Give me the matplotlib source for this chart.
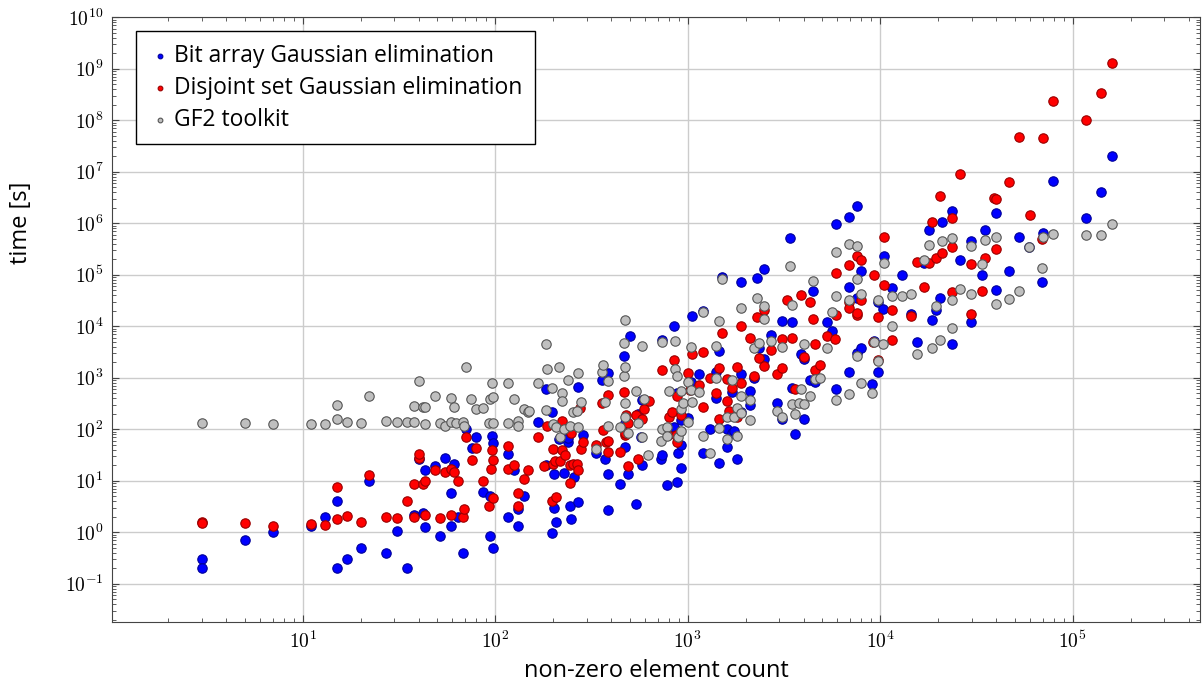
import numpy as np
import matplotlib
matplotlib.use("Agg")
import matplotlib.pyplot as plt
from matplotlib.ticker import FixedLocator, LogLocator, FuncFormatter, NullFormatter

plt.rcParams['font.family'] = ['Open Sans', 'DejaVu Sans']
plt.rcParams['mathtext.fontset'] = 'cm'

# Bit array Gaussian elimination: (non-zero count, time)
bit_x = [3, 3, 5, 7, 11, 13, 15, 15, 17, 20, 22, 27, 31, 35, 38, 40, 42, 43, 43, 49,
         52, 55, 59, 59, 61, 64, 68, 71, 76, 80, 87, 94, 94, 96, 98, 98, 116, 116, 126, 132,
         132, 141, 168, 183, 183, 198, 198, 203, 203, 208, 214, 227, 240, 240, 245, 247, 257, 270, 270, 285,
         333, 357, 370, 387, 387, 387, 445, 467, 470, 475, 490, 500, 540, 550, 575, 580, 580, 730, 735, 740,
         780, 850, 850, 885, 885, 890, 925, 925, 925, 1000, 1040, 1060, 1150, 1200, 1200, 1300, 1400, 1400, 1450, 1450,
         1500, 1600, 1600, 1700, 1700, 1750, 1800, 1900, 1900, 1900, 2100, 2100, 2200, 2300, 2350, 2500, 2500, 2700, 2900, 3100,
         3100, 3400, 3500, 3500, 3600, 3900, 4000, 4000, 4300, 4500, 4600, 5300, 5600, 5900, 5900, 6900, 6900, 6900, 7600, 7600,
         7600, 8000, 8000, 9100, 9300, 9800, 9800, 10500, 10300, 11500, 13000, 14500, 15500, 17000, 18000, 18500, 19500, 20500, 21000, 23500,
         23500, 26000, 29500, 29500, 34000, 35000, 40000, 40000, 46500, 52500, 59000, 69000, 70000, 79000, 118000, 140000, 160000]
bit_t = [0.3, 0.2, 0.7, 1.0, 1.3, 2.0, 4.0, 0.2, 0.3, 0.5, 10, 0.4, 1.05, 0.2, 2.2, 27, 2.4, 16, 1.25, 19,
         0.84, 28, 5.7, 1.3, 21, 2.0, 0.4, 100, 43, 70, 6, 5, 0.84, 73, 53, 0.5, 33, 2.0, 16, 1.3,
         2.8, 5, 140, 610, 20, 220, 0.96, 13.5, 2.9, 1.6, 66, 14, 57, 68, 3.2, 1.8, 12, 670, 3.8, 78,
         35, 900, 27, 1250, 13.5, 2.7, 8.8, 2600, 45, 135, 13.5, 6500, 3.5, 200, 72, 375, 20, 27, 31, 5400,
         8.2, 1.0e4, 112, 510, 9.6, 35, 150, 18, 50, 168, 830, 1.6e4, 1200, 2.0e4, 35, 100, 1300, 410, 3300, 22,
         9.0e4, 100, 46, 535, 85, 94, 26, 7.2e4, 1200, 220, 560, 290, 1000, 8.7e4, 3800, 1.3e5, 2300, 6800, 320, 1.27e4,
         160, 5.2e5, 1.2e4, 640, 82, 2900, 2300, 160, 910, 4.8e4, 840, 1.2e4, 8200, 9.6e5, 610, 1.3e6, 5.7e4, 1300, 2.2e6, 3.6e4,
         3000, 1.2e5, 3800, 770, 5200, 3.0e4, 1300, 2.3e5, 2.2e4, 5.5e4, 9.9e4, 1.7e4, 5000, 1.7e5, 7.4e5, 1.35e4, 2.1e4, 3.6e4, 1.05e6, 1.7e6,
         4500, 1.9e5, 4.5e5, 1.2e4, 9.9e4, 7.4e5, 1.6e6, 5.0e4, 1.17e5, 5.4e5, 3.5e5, 7.2e4, 6.6e5, 6.6e6, 1.26e6, 4.0e6, 2.0e7]

# Disjoint set Gaussian elimination
dsu_x = [3, 3, 5, 7, 11, 13, 15, 15, 17, 20, 22, 27, 31, 35, 38, 38, 40, 40, 42, 43,
         43, 49, 52, 55, 59, 59, 61, 64, 68, 69, 71, 76, 80, 87, 93, 95, 96, 98, 98, 116,
         116, 126, 132, 132, 141, 148, 168, 180, 185, 198, 200, 200, 205, 208, 218, 222, 222, 230, 245, 245,
         247, 253, 265, 270, 275, 280, 285, 333, 357, 362, 375, 385, 385, 387, 445, 467, 470, 475, 480, 490,
         490, 540, 550, 580, 595, 630, 740, 790, 805, 830, 850, 875, 885, 885, 925, 1000, 1030, 1060, 1150, 1200,
         1200, 1300, 1400, 1450, 1450, 1500, 1600, 1600, 1650, 1700, 1800, 1800, 1900, 1900, 2100, 2200, 2300, 2350, 2500, 2500,
         2700, 2900, 3100, 3100, 3300, 3500, 3600, 3900, 4000, 4300, 4500, 4600, 4600, 4900, 5300, 5800, 5900, 5900, 6900, 6900,
         6900, 7600, 7600, 7600, 8000, 8000, 9200, 9300, 9800, 9800, 10500, 10500, 11500, 11500, 14500, 15500, 17000, 18000, 18500, 19500,
         20500, 21000, 23500, 23500, 23500, 26000, 29500, 29500, 34000, 35000, 39000, 40000, 40000, 46500, 52500, 60000, 69000, 70000, 79000, 118000,
         140000, 160000]
dsu_t = [1.6, 1.5, 1.55, 1.35, 1.45, 1.4, 7.5, 1.8, 2.1, 1.6, 13, 2.0, 1.9, 4.0, 8.5, 2.0, 28, 33, 8.5, 10,
         2.2, 16, 1.9, 14.5, 17, 2.2, 15, 10, 2.0, 2.8, 70, 25, 43, 10, 3.3, 17, 39, 25, 4.6, 47,
         17, 20, 5.7, 3.2, 11, 16, 72, 19, 117, 4.0, 42, 21, 24, 4.8, 24, 40, 145, 31, 20, 9.2,
         85, 21, 21, 16, 260, 42, 57, 49, 320, 95, 57, 60, 37, 470, 37, 535, 79, 85, 190, 135,
         19, 190, 27, 155, 250, 360, 1400, 79, 175, 220, 2200, 78, 450, 57, 190, 1250, 590, 2900, 730, 3200,
         270, 1000, 510, 1560, 160, 7400, 960, 360, 230, 640, 1600, 170, 1.0e4, 800, 5900, 1100, 1.5e4, 2400, 2.1e4, 1700,
         3500, 1200, 5600, 1560, 3.3e4, 5900, 610, 4.0e4, 2550, 3.0e4, 1.4e4, 4600, 1430, 1800, 6400, 5700, 1.1e5, 1.65e4, 1.55e5, 3.0e4,
         2.3e4, 2.3e5, 1.65e4, 1.8e4, 1.9e5, 3.3e4, 5000, 9.9e4, 1.5e4, 2200, 5.4e5, 6.3e4, 2.1e4, 5400, 1.6e4, 1.8e5, 5.7e4, 1.7e5, 1.05e6, 2.1e5,
         3.4e6, 2.6e5, 1.26e6, 3.5e5, 4.7e4, 9.0e6, 1.6e5, 1.7e4, 4.9e4, 2.1e5, 3.1e6, 2.9e6, 3.2e5, 6.3e6, 4.7e7, 1.45e6, 4.9e5, 4.5e7, 2.35e8, 1.0e8,
         3.4e8, 1.28e9]

# GF2 toolkit
gf2_x = [3, 5, 7, 11, 13, 15, 15, 17, 20, 22, 27, 31, 35, 38, 38, 40, 42, 43, 43, 49,
         52, 55, 59, 59, 61, 63, 68, 69, 71, 75, 80, 87, 93, 94, 96, 98, 98, 116, 116, 126,
         132, 132, 141, 148, 150, 168, 183, 183, 187, 198, 200, 208, 214, 218, 222, 222, 227, 240, 245, 253,
         265, 270, 270, 280, 333, 357, 365, 373, 387, 387, 445, 465, 467, 475, 475, 475, 475, 490, 540, 550,
         580, 580, 595, 625, 735, 730, 740, 780, 780, 805, 855, 860, 885, 890, 925, 925, 925, 950, 1000, 1000,
         1040, 1040, 1050, 1150, 1200, 1200, 1300, 1400, 1400, 1450, 1450, 1500, 1600, 1600, 1700, 1750, 1800, 1800, 1900, 1900,
         1900, 2100, 2100, 2200, 2300, 2350, 2500, 2500, 2700, 2900, 3100, 3100, 3400, 3500, 3500, 3600, 3800, 3900, 4000, 4000,
         4300, 4500, 4600, 4900, 5300, 5600, 5900, 5900, 5900, 6900, 6900, 6900, 7600, 7600, 7600, 8000, 8000, 9100, 9300, 9800,
         9800, 10300, 10500, 11500, 11500, 13000, 14500, 15500, 17000, 18000, 18500, 19500, 20500, 21000, 23500, 23500, 23500, 26000, 29500, 29500,
         34000, 35000, 40000, 40000, 46500, 52500, 59000, 69000, 70000, 79000, 118000, 140000, 160000]
gf2_t = [130, 130, 125, 125, 125, 156, 300, 137, 130, 440, 143, 137, 137, 137, 280, 850, 270, 270, 125, 440,
         130, 115, 137, 400, 270, 130, 137, 115, 1600, 380, 245, 255, 130, 380, 780, 420, 130, 800, 130, 380,
         143, 115, 245, 220, 230, 800, 4600, 240, 1500, 640, 125, 110, 1600, 71, 510, 360, 100, 900, 115, 220,
         230, 1250, 110, 340, 42, 1300, 1800, 340, 880, 117, 110, 1100, 4800, 1.3e4, 1600, 320, 175, 85, 560, 135,
         4200, 70, 390, 31, 100, 60, 5000, 110, 75, 560, 1500, 5200, 1100, 70, 560, 250, 94, 330, 840, 140,
         4000, 590, 340, 535, 1.9e4, 75, 34, 4200, 1000, 1.27e4, 107, 8.3e4, 170, 65, 910, 175, 260, 75, 2.3e4, 450,
         210, 370, 150, 3800, 3.5e4, 4700, 2.5e4, 1.4e4, 5200, 230, 4000, 170, 1.5e5, 2.6e4, 310, 200, 330, 610, 4600, 310,
         450, 7.4e4, 960, 1000, 3800, 1.9e4, 2.8e5, 3.9e4, 370, 4.0e5, 3.3e4, 490, 3.6e5, 8.4e4, 2600, 4.2e4, 800, 510, 5000, 3.3e4,
         2100, 4500, 1.7e5, 3.9e4, 1.0e4, 3.9e4, 4.2e4, 2900, 1.9e5, 3.7e5, 3800, 2.5e4, 5300, 4.5e5, 5.2e5, 3.2e4, 9300, 5.3e4, 3.6e5, 4.2e4,
         1.6e5, 4.7e5, 5.4e5, 2.7e4, 3.4e4, 4.8e4, 3.5e5, 1.35e5, 5.4e5, 6.3e5, 5.9e5, 6.0e5, 9.6e5]

x_decades = [1, 2, 3, 4, 5]
y_decades = [-1, 0, 1, 2, 3, 4, 5, 6, 7, 8, 9, 10]

fig = plt.figure(figsize=(12.02, 6.86), dpi=100)
ax = fig.add_axes([0.093, 0.093, 0.9055, 0.882])

ax.scatter(bit_x, bit_t, s=46, c='#0000ff', edgecolors='#000099', linewidths=0.8,
           label='Bit array Gaussian elimination', zorder=3)
ax.scatter(dsu_x, dsu_t, s=46, c='#ff0000', edgecolors='#990000', linewidths=0.8,
           label='Disjoint set Gaussian elimination', zorder=3)
ax.scatter(gf2_x, gf2_t, s=46, c='#bfbfbf', edgecolors='#555555', linewidths=0.8,
           label='GF2 toolkit', zorder=3)

ax.set_xscale('log')
ax.set_yscale('log')
ax.set_xlim(1.02, 4.6e5)
ax.set_ylim(1.8e-2, 1e10)

fmt = FuncFormatter(lambda v, p: r'$10^{%d}$' % int(round(np.log10(v))))
ax.xaxis.set_major_locator(FixedLocator([10.0 ** d for d in x_decades]))
ax.yaxis.set_major_locator(FixedLocator([10.0 ** d for d in y_decades]))
ax.xaxis.set_minor_locator(LogLocator(base=10, subs=np.arange(2, 10), numticks=20))
ax.yaxis.set_minor_locator(LogLocator(base=10, subs=np.arange(2, 10), numticks=20))
ax.xaxis.set_major_formatter(fmt)
ax.yaxis.set_major_formatter(fmt)
ax.xaxis.set_minor_formatter(NullFormatter())
ax.yaxis.set_minor_formatter(NullFormatter())

ax.tick_params(which='both', direction='in', top=True, right=True, labelsize=14, color='#444444')
ax.tick_params(which='major', length=5, pad=6)
ax.tick_params(which='minor', length=3)
ax.grid(True, which='major', color='#cccccc', linewidth=1.0, zorder=0)
ax.set_axisbelow(True)
for sp in ax.spines.values():
    sp.set_color('#444444')

ax.set_xlabel('non-zero element count', fontsize=17, labelpad=5)
ax.set_ylabel('time [s]', fontsize=17)
ax.yaxis.set_label_coords(-0.072, 0.66)

leg = ax.legend(loc='upper left', fontsize=16.5, frameon=True, fancybox=False,
                edgecolor='black', markerscale=0.5, handletextpad=0.1,
                handlelength=1.0, borderpad=0.55, labelspacing=0.35,
                borderaxespad=0, bbox_to_anchor=(0.022, 0.977))
leg.get_frame().set_linewidth(1.0)
leg.get_frame().set_alpha(1.0)

fig.savefig('out.png', dpi=100)
